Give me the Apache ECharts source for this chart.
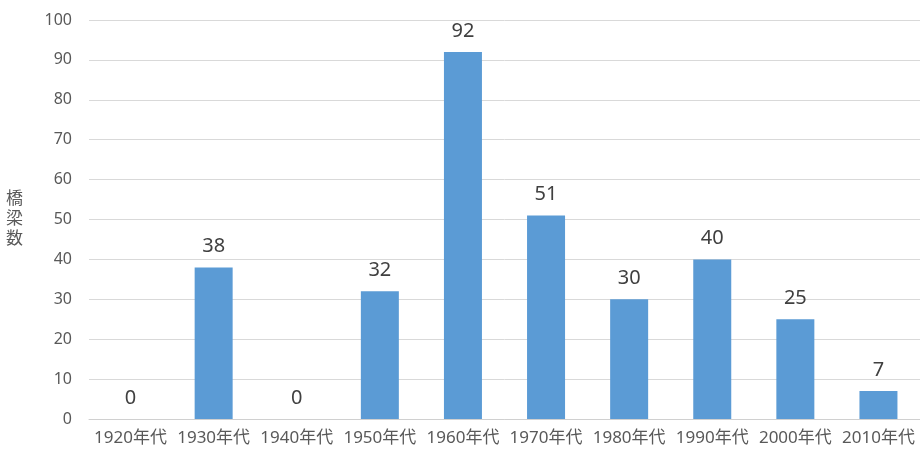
<!DOCTYPE html>
<html>
<head>
<meta charset="utf-8">
<script src="https://cdn.jsdelivr.net/npm/echarts@6/dist/echarts.min.js"></script>
<style>
  html, body { margin: 0; padding: 0; background: #fff; }
  #chart { width: 920px; height: 452px; }
</style>
</head>
<body>
<div id="chart"></div>
<script>
// Bridges built per decade
const decades = ['1920年代', '1930年代', '1940年代', '1950年代', '1960年代', '1970年代', '1980年代', '1990年代', '2000年代', '2010年代'];
const bridgeCounts = [0, 38, 0, 32, 92, 51, 30, 40, 25, 7];
const yTicks = { min: 0, max: 100, interval: 10 };

const font = '"Noto Sans", "Noto Sans CJK JP", sans-serif';
const chart = echarts.init(document.getElementById('chart'));

chart.setOption({
  animation: false,
  textStyle: { fontFamily: font },
  grid: { left: 89, right: -6, top: 20, bottom: 33, containLabel: false },
  xAxis: {
    type: 'category',
    data: decades,
    axisLine: { lineStyle: { color: '#d0d0d0', width: 1 } },
    axisTick: { show: false },
    axisLabel: { color: '#595959', fontSize: 17, margin: 11, interval: 0, fontFamily: font }
  },
  yAxis: {
    type: 'value',
    min: yTicks.min,
    max: yTicks.max,
    interval: yTicks.interval,
    name: '橋\n梁\n数',
    nameLocation: 'middle',
    nameRotate: 0,
    nameGap: 66,
    nameTextStyle: { color: '#595959', fontSize: 17, lineHeight: 20, fontFamily: font },
    axisLine: { show: false },
    axisTick: { show: false },
    axisLabel: { color: '#595959', fontSize: 16, margin: 17, fontFamily: font },
    splitLine: { lineStyle: { color: '#d9d9d9', width: 1 } }
  },
  series: [{
    type: 'bar',
    data: bridgeCounts,
    barWidth: 38,
    itemStyle: { color: '#5b9bd5' },
    label: {
      show: true,
      position: 'top',
      distance: 11,
      color: '#404040',
      fontSize: 20,
      fontFamily: font
    }
  }]
});
</script>
</body>
</html>
